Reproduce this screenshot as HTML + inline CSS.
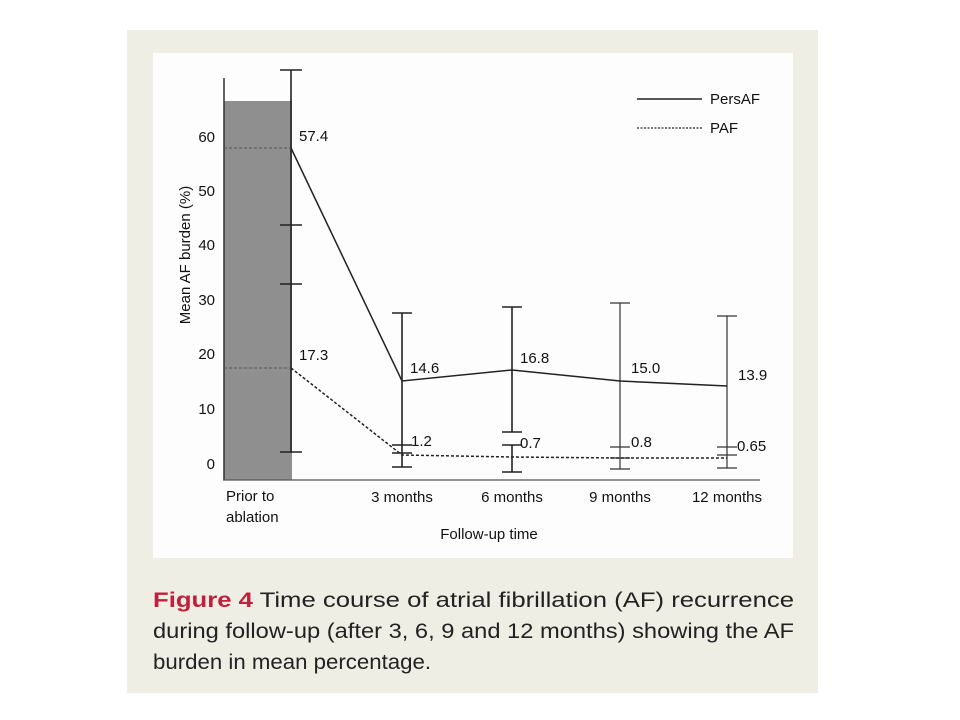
<!DOCTYPE html>
<html><head><style>
body{margin:0;width:960px;height:720px;background:#fff;position:relative;overflow:hidden;font-family:"Liberation Sans",sans-serif}
</style></head><body>
<div style="position:absolute;left:127px;top:30px;width:691px;height:663px;background:#eeeee4"></div>
<div style="position:absolute;left:153px;top:53px;width:640px;height:505px;background:#fdfdfd"></div>
<svg width="960" height="720" style="position:absolute;left:0;top:0" font-family="Liberation Sans, sans-serif">
<rect x="224" y="101" width="68" height="379" fill="#8f8f8f"/>
<line x1="224" y1="78" x2="224" y2="480" stroke="#333" stroke-width="1.5"/>
<line x1="223" y1="480" x2="760" y2="480" stroke="#555" stroke-width="1.2"/>
<g stroke="#222" stroke-width="1.6">
<line x1="291" y1="70" x2="291" y2="453"/>
<line x1="280" y1="70" x2="302" y2="70"/>
<line x1="280" y1="225" x2="302" y2="225"/>
<line x1="280" y1="284" x2="302" y2="284"/>
<line x1="280" y1="452" x2="302" y2="452"/>
<line x1="402" y1="313" x2="402" y2="467"/>
<line x1="392" y1="313" x2="412" y2="313"/><line x1="392" y1="445" x2="412" y2="445"/><line x1="392" y1="453" x2="412" y2="453"/><line x1="392" y1="467" x2="412" y2="467"/>
<line x1="512" y1="307" x2="512" y2="432"/><line x1="512" y1="445" x2="512" y2="472"/>
<line x1="502" y1="307" x2="522" y2="307"/><line x1="502" y1="432" x2="522" y2="432"/><line x1="502" y1="445" x2="522" y2="445"/><line x1="502" y1="472" x2="522" y2="472"/>
</g>
<g stroke="#333" stroke-width="1.2">
<line x1="620" y1="303" x2="620" y2="469"/>
<line x1="610" y1="303" x2="630" y2="303"/><line x1="610" y1="447" x2="630" y2="447"/><line x1="610" y1="458" x2="630" y2="458"/><line x1="610" y1="469" x2="630" y2="469"/>
<line x1="727" y1="316" x2="727" y2="468"/>
<line x1="717" y1="316" x2="737" y2="316"/><line x1="717" y1="447" x2="737" y2="447"/><line x1="717" y1="455" x2="737" y2="455"/><line x1="717" y1="468" x2="737" y2="468"/>
</g>
<line x1="224" y1="148" x2="291" y2="148" stroke="#555" stroke-dasharray="3,2"/>
<line x1="224" y1="368" x2="291" y2="368" stroke="#555" stroke-dasharray="3,2"/>
<polyline points="291,148 402,381 512,370 620,381 727,386" fill="none" stroke="#222" stroke-width="1.5"/>
<polyline points="291,368 402,455 512,457 620,458 727,458" fill="none" stroke="#222" stroke-width="1.5" stroke-dasharray="3,2"/>
<line x1="637" y1="99" x2="702" y2="99" stroke="#222" stroke-width="1.5"/>
<line x1="637" y1="128" x2="702" y2="128" stroke="#222" stroke-width="1.2" stroke-dasharray="2,1.5"/>
<g font-size="15" fill="#111">
<text x="710" y="104">PersAF</text><text x="710" y="133">PAF</text>
<g text-anchor="end"><text x="215" y="142">60</text><text x="215" y="196">50</text><text x="215" y="250">40</text><text x="215" y="305">30</text><text x="215" y="359">20</text><text x="215" y="414">10</text><text x="215" y="469">0</text></g>
<text x="299" y="141">57.4</text><text x="299" y="360">17.3</text>
<text x="410" y="373">14.6</text><text x="520" y="363">16.8</text><text x="631" y="373">15.0</text><text x="738" y="380">13.9</text>
<text x="411" y="446">1.2</text><text x="520" y="448">0.7</text><text x="631" y="447">0.8</text><text x="737" y="451">0.65</text>
<text x="226" y="501">Prior to</text><text x="226" y="522">ablation</text>
<text x="402" y="502" text-anchor="middle">3 months</text><text x="512" y="502" text-anchor="middle">6 months</text><text x="620" y="502" text-anchor="middle">9 months</text><text x="727" y="502" text-anchor="middle">12 months</text>
<text x="489" y="539" text-anchor="middle">Follow-up time</text>
<text transform="translate(190,255) rotate(-90)" text-anchor="middle">Mean AF burden (%)</text>
</g>
<g font-size="21" fill="#222" font-family="Liberation Sans, sans-serif">
<text x="153" y="607" textLength="641" lengthAdjust="spacingAndGlyphs"><tspan fill="#c0203a" font-weight="bold">Figure 4</tspan> Time course of atrial fibrillation (AF) recurrence</text>
<text x="153" y="638" textLength="641" lengthAdjust="spacingAndGlyphs">during follow-up (after 3, 6, 9 and 12 months) showing the AF</text>
<text x="153" y="669" textLength="278" lengthAdjust="spacingAndGlyphs">burden in mean percentage.</text>
</g>
</svg>
</body></html>
